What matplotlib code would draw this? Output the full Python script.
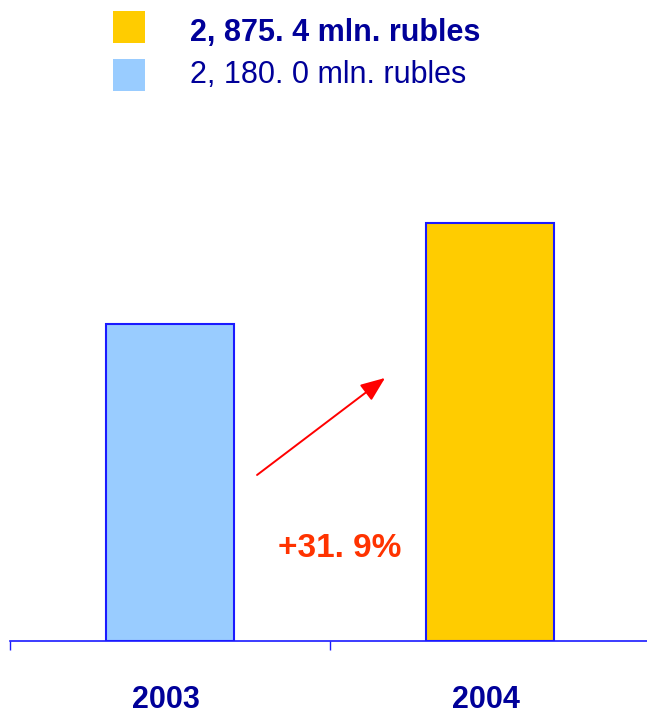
import matplotlib.pyplot as plt
from matplotlib.patches import Rectangle

years = ["2003", "2004"]
revenue = [2180.0, 2875.4]  # mln. rubles
fills = ["#99CCFF", "#FFCC00"]

navy = "#000099"
edge = "#1A1AFF"
font = "Liberation Sans"


def rub(v):
    return "{:,.1f}".format(v).replace(",", ", ").replace(".", ". ") + " mln. rubles"


growth = (revenue[1] / revenue[0] - 1) * 100

W, H = 647, 717
fig = plt.figure(figsize=(W / 100, H / 100), dpi=100)
ax = fig.add_axes([10 / W, 76 / H, 640 / W, 582 / H])

x = range(len(years))
ax.bar(x, revenue, width=0.4, color=fills, edgecolor=edge, linewidth=1.5, zorder=2)

ax.set_xlim(-0.5, 1.5)
ax.set_ylim(0, 4000)
for s in ["top", "right", "left"]:
    ax.spines[s].set_visible(False)
ax.spines["bottom"].set_color(edge)
ax.spines["bottom"].set_linewidth(1.2)
ax.set_yticks([])

# category labels under the axis, ticks between categories
ax.set_xticks([])
ax.set_xticks([-0.5, 0.5, 1.5], minor=True)
ax.tick_params(axis="x", which="minor", length=6.5, width=1, color=edge, direction="out")
for i, yr in enumerate(years):
    ax.text(i - 0.012, -0.1151, yr, transform=ax.get_xaxis_transform(),
            ha="center", va="baseline", fontsize=22, fontweight="bold",
            color=navy, family=font, clip_on=False)

# growth arrow between the bars
ax.annotate("", xy=(0.672, 1808), xytext=(0.272, 1141),
            arrowprops=dict(arrowstyle="-|>,head_length=1.0,head_width=0.4",
                            mutation_scale=15, color="#FF0000", lw=1.4,
                            shrinkA=0, shrinkB=0))
ax.text(0.531, 577, "+{:.1f}%".format(growth).replace(".", ". "),
        ha="center", va="baseline", fontsize=24, fontweight="bold",
        color="#FF3300", family=font)

# legend, 2004 on top
for i, (v, c, wt) in enumerate([(revenue[1], fills[1], "bold"),
                                (revenue[0], fills[0], "normal")]):
    top = 11 + i * 48
    fig.patches.append(Rectangle((113 / W, 1 - (top + 32) / H), 32 / W, 32 / H,
                                 transform=fig.transFigure, color=c, lw=0))
    fig.text(190 / W, 1 - (41 + i * 42) / H, rub(v), ha="left", va="baseline",
             fontsize=22, fontweight=wt, color=navy, family=font)

fig.savefig("out.png", dpi=100)
